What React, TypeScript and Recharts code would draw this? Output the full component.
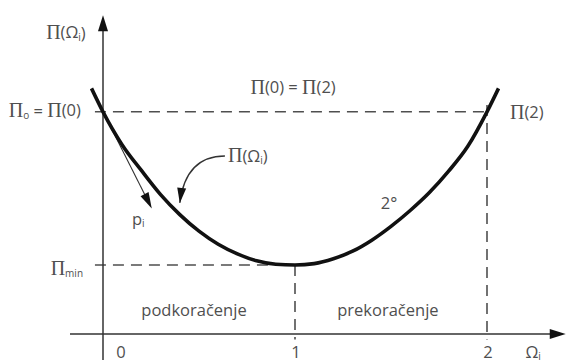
import { LineChart, Line, XAxis, YAxis, ReferenceLine, ReferenceDot } from "recharts";

// curve (Omega_i -> Pi(Omega_i))
const omega = [-0.06, 0, 0.1, 0.2, 0.3, 0.4, 0.5, 0.6, 0.7, 0.8, 0.9, 1.0, 1.1, 1.2, 1.3, 1.4, 1.5, 1.6, 1.7, 1.8, 1.9, 2.0, 2.06];
const piOmega = [3.56, 3.22, 2.74, 2.37, 2.02, 1.73, 1.49, 1.3, 1.16, 1.06, 1.01, 1.0, 1.02, 1.09, 1.2, 1.36, 1.56, 1.79, 2.05, 2.36, 2.72, 3.22, 3.56];
const xTicks = ["0", "1", "2"];
const pi0 = 3.22;
const piMin = 1;
const omegaOpt = 1;
const omegaTwo = 2;
// tangent direction p_i at Omega = 0
const tangentEnd = { omega: 0.254, pi: 1.82 };

const data = omega.map((o, i) => ({ omega: o, pi: piOmega[i] }));

const INK = "#111";
const AXIS = "#333";
const GREY = "#4f4f4f";
const SANS = "'Open Sans', sans-serif";
const SERIF = "'Liberation Serif', serif";

const head = (x1: number, y1: number, x2: number, y2: number, len: number, half: number) => {
  const dx = x2 - x1;
  const dy = y2 - y1;
  const d = Math.hypot(dx, dy) || 1;
  const ux = dx / d;
  const uy = dy / d;
  const bx = x2 - ux * len;
  const by = y2 - uy * len;
  return `${x2},${y2} ${bx - uy * half},${by + ux * half} ${bx + uy * half},${by - ux * half}`;
};

const arrow = (w: number, len: number, half: number, color: string) => (p: any) => {
  const d = Math.hypot(p.x2 - p.x1, p.y2 - p.y1) || 1;
  const k = (d - len * 0.7) / d;
  return (
    <g>
      <line x1={p.x1} y1={p.y1} x2={p.x1 + (p.x2 - p.x1) * k} y2={p.y1 + (p.y2 - p.y1) * k} stroke={color} strokeWidth={w} />
      <polygon points={head(p.x1, p.y1, p.x2, p.y2, len, half)} fill={INK} />
    </g>
  );
};

const curvedArrow = (p: any) => {
  const cx = p.x2 + 6;
  const cy = p.y1;
  return (
    <g>
      <path d={`M${p.x1},${p.y1} Q${cx},${cy} ${p.x2},${p.y2}`} fill="none" stroke={AXIS} strokeWidth={1.3} />
      <polygon points={head(cx, cy, p.x2, p.y2, 15, 4.5)} fill={INK} />
    </g>
  );
};

const dashed = { stroke: GREY, strokeWidth: 1.6, strokeDasharray: "11 7", ifOverflow: "visible" as const };

const label = (key: string, x: number, y: number, content: any, anchor: "start" | "middle" | "end" = "start") => (
  <ReferenceDot
    key={key}
    x={x}
    y={y}
    r={0}
    ifOverflow="visible"
    shape={(p: any) => (
      <text x={p.cx} y={p.cy} textAnchor={anchor} dominantBaseline="central" fill={GREY} fontFamily={SANS} fontSize={16.5} fontWeight={500}>
        {content}
      </text>
    )}
  />
);

const P = (k: string) => <tspan key={k} fontFamily={SERIF} fontSize={20}>Π</tspan>;
// subscript, optionally followed by text back on the baseline
const sub = (s: string, after?: string) =>
  after === undefined
    ? [<tspan key="s" dy={5} fontSize={10}>{s}</tspan>]
    : [
        <tspan key="s" dy={5} fontSize={10}>{s}</tspan>,
        <tspan key="a" dy={-5}>{after}</tspan>,
      ];

export default function App() {
  return (
    <div style={{ position: "absolute", left: 0, top: 0, background: "#fff" }}>
      <LineChart width={566} height={363} data={data} margin={{ top: 9.7, right: 2.2, left: 64.6, bottom: 1.4 }}>
        <XAxis dataKey="omega" type="number" domain={[-0.2, 2.4]} allowDataOverflow hide />
        <YAxis type="number" domain={[-0.4, 4.7]} allowDataOverflow hide />

        {/* guide lines */}
        <ReferenceLine segment={[{ x: -0.042, y: pi0 }, { x: omegaTwo, y: pi0 }]} {...dashed} />
        <ReferenceLine segment={[{ x: -0.042, y: piMin }, { x: omegaOpt, y: piMin }]} {...dashed} />
        <ReferenceLine segment={[{ x: omegaOpt, y: piMin }, { x: omegaOpt, y: -0.08 }]} {...dashed} />
        <ReferenceLine segment={[{ x: omegaTwo, y: 3.32 }, { x: omegaTwo, y: -0.08 }]} {...dashed} />

        {/* axes */}
        <ReferenceLine segment={[{ x: -0.172, y: 0 }, { x: 2.41, y: 0 }]} ifOverflow="visible" shape={arrow(1.5, 16, 5, AXIS)} />
        <ReferenceLine segment={[{ x: 0, y: -0.377 }, { x: 0, y: 4.62 }]} ifOverflow="visible" shape={arrow(1.5, 16, 5, AXIS)} />

        {/* tangent p_i and pointer to the curve */}
        <ReferenceLine segment={[{ x: 0, y: pi0 }, { x: tangentEnd.omega, y: tangentEnd.pi }]} ifOverflow="visible" shape={arrow(1.1, 16, 4.5, AXIS)} />
        <ReferenceLine segment={[{ x: 0.635, y: 2.58 }, { x: 0.4, y: 1.9 }]} ifOverflow="visible" shape={curvedArrow} />

        <Line type="monotone" dataKey="pi" stroke={INK} strokeWidth={3.6} dot={false} isAnimationActive={false} />

        {label("yl", -0.193, 4.38, [P("p"), "(Ω", ...sub("i", ")")], "middle")}
        {label("eq", 0.99, 3.58, [P("p"), "(0) = ", P("q"), "(2)"], "middle")}
        {label("p0", -0.115, 3.25, [P("p"), ...sub("o", " = "), P("q"), "(0)"], "end")}
        {label("p2", 2.12, 3.22, [P("p"), "(2)"])}
        {label("pc", 0.651, 2.59, [P("p"), "(Ω", ...sub("i", ")")])}
        {label("pi", 0.151, 1.68, ["p", ...sub("i")])}
        {label("pm", -0.104, 0.96, [P("p"), ...sub("min")], "end")}
        {label("deg", 1.49, 1.9, "2°", "middle")}
        {label("pod", 0.474, 0.35, "podkoračenje", "middle")}
        {label("pre", 1.484, 0.35, "prekoračenje", "middle")}
        {xTicks.map((t, i) => label("t" + t, i === 0 ? 0.094 : Number(t) + 0.005, -0.25, t, "middle"))}
        {label("om", 2.2, -0.25, ["Ω", ...sub("i")])}
      </LineChart>
    </div>
  );
}
